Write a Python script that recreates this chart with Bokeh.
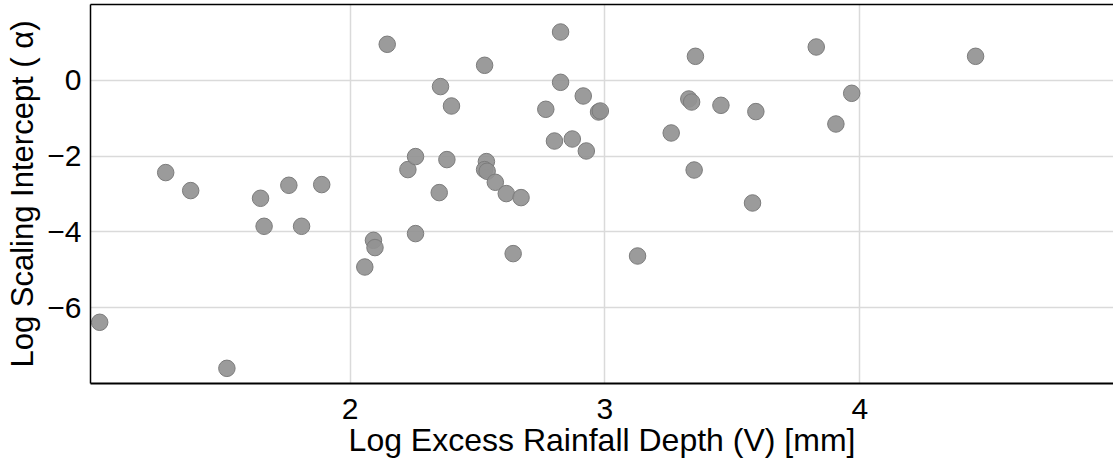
from bokeh.plotting import figure
from bokeh.models import LinearAxis, FixedTicker, Range1d, ColumnDataSource
from bokeh.embed import file_html
from bokeh.resources import INLINE

log_v = [1.018, 1.277, 1.375, 1.517, 1.649, 1.663, 1.760, 1.810, 1.889, 2.058,
         2.092, 2.098, 2.146, 2.227, 2.257, 2.257, 2.350, 2.355, 2.380, 2.398,
         2.528, 2.535, 2.528, 2.538, 2.570, 2.613, 2.640, 2.671, 2.768, 2.802,
         2.826, 2.826, 2.872, 2.915, 2.927, 2.975, 2.982, 3.128, 3.260, 3.329,
         3.340, 3.350, 3.355, 3.455, 3.579, 3.592, 3.829, 3.906, 3.968, 4.454]
log_alpha = [-6.385, -2.435, -2.910, -7.600, -3.113, -3.852, -2.770, -3.852, -2.752, -4.926,
             -4.222, -4.414, 0.950, -2.356, -2.013, -4.045, -2.963, -0.166, -2.092, -0.678,
             0.396, -2.145, -2.356, -2.401, -2.691, -2.989, -4.573, -3.095, -0.765, -1.602,
             1.274, -0.053, -1.549, -0.414, -1.865, -0.836, -0.810, -4.636, -1.390, -0.493,
             -0.573, -2.367, 0.633, -0.660, -3.237, -0.826, 0.879, -1.153, -0.343, 0.633]

x_ticks = [2, 3, 4]
y_ticks = [0, -2, -4, -6]
x_title = "Log Excess Rainfall Depth (V) [mm]"
y_title = "Log Scaling Intercept ( \u03b1)"

src = ColumnDataSource(dict(x=log_v, y=log_alpha))

p = figure(width=1113, height=471, output_backend="svg", toolbar_location=None,
           x_range=Range1d(0.982, 4.995), y_range=Range1d(-8, 2),
           min_border_left=90, min_border_right=0, min_border_top=4, min_border_bottom=88)
p.outline_line_color = None
p.background_fill_color = "white"
p.border_fill_color = "white"

p.scatter("x", "y", source=src, size=16.5, fill_color="#929292", fill_alpha=0.92,
          line_color="#7c7c7c", line_width=1)

font = "Liberation Sans"
for ax in (p.xaxis[0], p.yaxis[0]):
    ax.major_label_text_font = font
    ax.major_label_text_font_size = "30px"
    ax.major_label_text_color = "black"
    ax.axis_label_text_font = font
    ax.axis_label_text_font_style = "normal"
    ax.axis_label_text_color = "black"
    ax.major_tick_line_color = None
    ax.minor_tick_line_color = None
    ax.axis_line_color = "black"

p.xaxis.axis_label_text_font_size = "32px"
p.yaxis.axis_label_text_font_size = "31px"
p.xaxis.ticker = FixedTicker(ticks=x_ticks)
p.yaxis.ticker = FixedTicker(ticks=y_ticks)
p.xaxis.axis_label = x_title
p.yaxis.axis_label = y_title
p.xaxis.axis_line_width = 2
p.yaxis.axis_line_width = 1.5
p.xaxis.major_label_standoff = 9
p.xaxis.axis_label_standoff = 0
p.yaxis.major_label_standoff = 3
p.yaxis.axis_label_standoff = 4

top = LinearAxis(ticker=FixedTicker(ticks=[]), axis_line_color="black", axis_line_width=1.5,
                 major_tick_line_color=None, minor_tick_line_color=None,
                 major_label_text_font_size="0px", major_label_standoff=0)
p.add_layout(top, "above")

p.xgrid.grid_line_color = "#dadada"
p.ygrid.grid_line_color = "#dadada"
p.xgrid.grid_line_width = 1.5
p.ygrid.grid_line_width = 1.5

open("out.html", "w").write(file_html(p, INLINE))
